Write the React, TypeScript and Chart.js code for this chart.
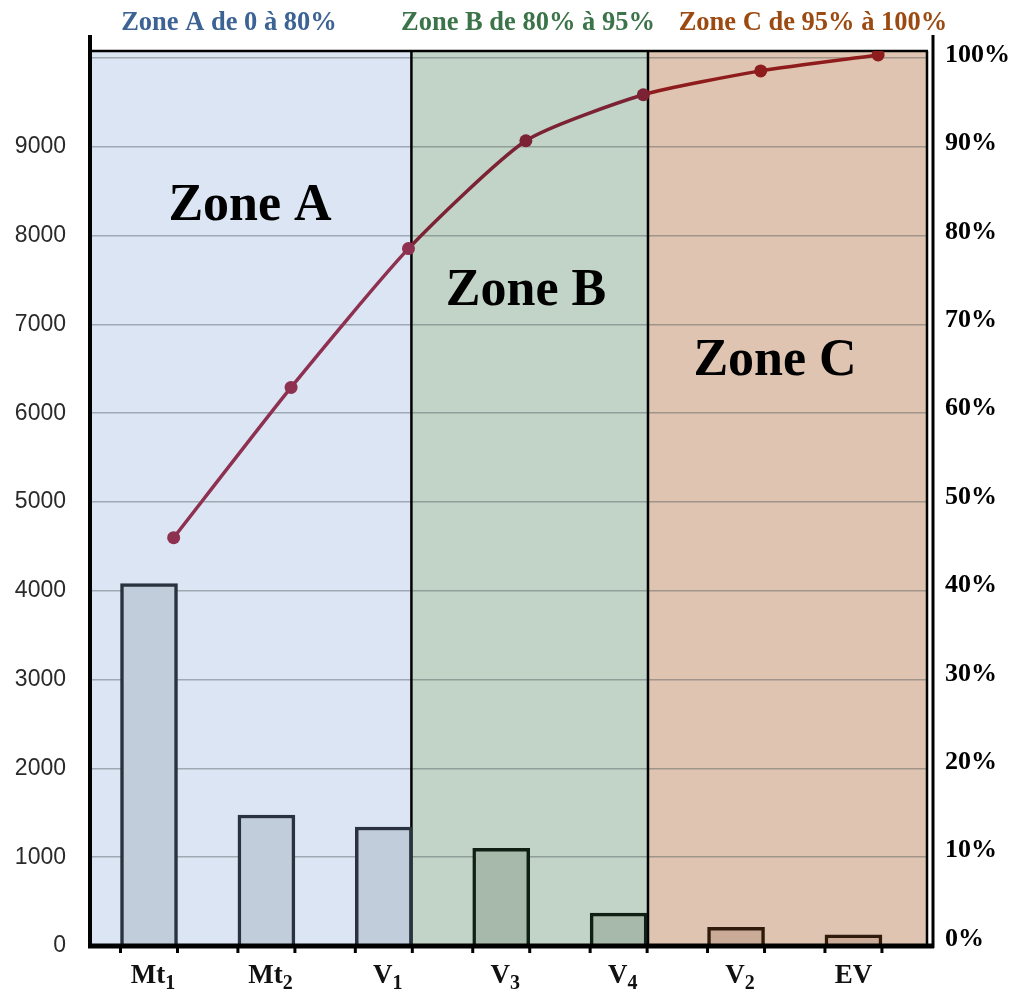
import React, { useEffect, useRef } from "react";
import { Chart, registerables } from "chart.js";

Chart.register(...registerables);

// ---- data ----
const categories = ["Mt", "Mt", "V", "V", "V", "V", "EV"];
const subscripts = ["1", "2", "1", "3", "4", "2", ""];
const values = [4080, 1475, 1340, 1100, 370, 210, 125];
const cumulativePct = [45.4, 62.4, 78.1, 90.3, 95.5, 98.2, 100];
const barZone = [0, 0, 0, 1, 1, 2, 2];
const leftTicks = [0, 1000, 2000, 3000, 4000, 5000, 6000, 7000, 8000, 9000, 10000];
const rightTicks = [0, 10, 20, 30, 40, 50, 60, 70, 80, 90, 100];
const zoneTitles = ["Zone A de 0 à 80%", "Zone B de 80% à 95%", "Zone C de 95% à 100%"];
const zoneNames = ["Zone A", "Zone B", "Zone C"];
// zone limits expressed in category units
const zoneLimits = [-0.5026, 2.235, 4.25, 6.635];

// ---- styles ----
const zoneBg = ["#dbe5f3", "#c2d4c7", "#dfc4b1"];
const barFill = ["#c1cddb", "#a7b9aa", "#c9ab97"];
const barBorder = ["#29323e", "#0f1f14", "#301a0c"];
const lineColor = ["#8e3050", "#7b2234", "#8e1c1c"];
const titleColor = ["#3c6394", "#3b7449", "#9b4b12"];
const SERIF = "'Liberation Serif', 'Times New Roman', serif";

const decor = {
  id: "decor",
  beforeDraw(chart: any) {
    const { ctx, chartArea: ca, scales } = chart;
    const x = scales.x;
    ctx.save();
    for (let z = 0; z < 3; z++) {
      const x0 = x.getPixelForValue(zoneLimits[z]);
      const x1 = x.getPixelForValue(zoneLimits[z + 1]);
      ctx.fillStyle = zoneBg[z];
      ctx.fillRect(x0, ca.top, x1 - x0, ca.bottom - ca.top);
    }
    ctx.restore();
  },
  beforeDatasetsDraw(chart: any) {
    const { ctx, chartArea: ca, scales } = chart;
    const x = scales.x;
    ctx.save();
    ctx.strokeStyle = "#000";
    ctx.lineWidth = 2.5;
    for (let z = 1; z < 4; z++) {
      const px = x.getPixelForValue(zoneLimits[z]) - (z === 3 ? 1 : 0);
      ctx.beginPath();
      ctx.moveTo(px, ca.top);
      ctx.lineTo(px, ca.bottom);
      ctx.stroke();
    }
    ctx.lineWidth = 2.5;
    ctx.beginPath();
    ctx.moveTo(ca.left, ca.top);
    ctx.lineTo(ca.right, ca.top);
    ctx.stroke();

    ctx.fillStyle = "#000";
    ctx.font = `bold 52px ${SERIF}`;
    ctx.textAlign = "center";
    ctx.textBaseline = "middle";
    const pos = [
      [250, 207],
      [526, 292],
      [775, 362],
    ];
    zoneNames.forEach((t, i) => ctx.fillText(t, pos[i][0], pos[i][1]));
    ctx.restore();
  },
  afterDraw(chart: any) {
    const { ctx, chartArea: ca, scales } = chart;
    const x = scales.x;
    ctx.save();
    ctx.strokeStyle = "#000";
    // left axis
    ctx.lineWidth = 4;
    ctx.beginPath();
    ctx.moveTo(ca.left, 35);
    ctx.lineTo(ca.left, ca.bottom + 2);
    ctx.stroke();
    // right axis
    ctx.lineWidth = 3;
    ctx.beginPath();
    ctx.moveTo(ca.right + 5, 35);
    ctx.lineTo(ca.right + 5, ca.bottom + 2);
    ctx.stroke();
    // bottom axis
    ctx.lineWidth = 5;
    ctx.beginPath();
    ctx.moveTo(ca.left - 2, ca.bottom);
    ctx.lineTo(ca.right + 6, ca.bottom);
    ctx.stroke();
    // tick marks at bar edges
    ctx.lineWidth = 3;
    values.forEach((_, i) => {
      const c = x.getPixelForValue(i);
      [c - 28.5, c + 28.5].forEach((px) => {
        ctx.beginPath();
        ctx.moveTo(px, ca.bottom);
        ctx.lineTo(px, ca.bottom + 7);
        ctx.stroke();
      });
    });
    // category labels with subscripts
    ctx.fillStyle = "#111";
    ctx.textBaseline = "alphabetic";
    ctx.textAlign = "left";
    categories.forEach((cat, i) => {
      const mainFont = `bold 27px ${SERIF}`;
      const subFont = `bold 20px ${SERIF}`;
      ctx.font = mainFont;
      const w1 = ctx.measureText(cat).width;
      ctx.font = subFont;
      const w2 = subscripts[i] ? ctx.measureText(subscripts[i]).width : 0;
      const c = x.getPixelForValue(i) + (subscripts[i] ? 4 : 0);
      const start = c - (w1 + w2) / 2;
      ctx.font = mainFont;
      ctx.fillText(cat, start, 983);
      if (subscripts[i]) {
        ctx.font = subFont;
        ctx.fillText(subscripts[i], start + w1, 989);
      }
    });
    // zone titles
    ctx.font = `bold 26.5px ${SERIF}`;
    ctx.textAlign = "center";
    ctx.textBaseline = "middle";
    const tx = [229, 528, 813];
    zoneTitles.forEach((t, i) => {
      ctx.fillStyle = titleColor[i];
      ctx.fillText(t, tx[i], 23);
    });
    ctx.restore();
  },
};

export default function App() {
  const ref = useRef<HTMLCanvasElement | null>(null);
  useEffect(() => {
    if (!ref.current) return;
    const chart = new Chart(ref.current, {
      type: "bar",
      data: {
        datasets: [
          {
            type: "line",
            data: cumulativePct.map((v, i) => ({ x: i + 0.21, y: v })),
            xAxisID: "x",
            yAxisID: "y2",
            borderWidth: 3.5,
            tension: 0.2,
            pointRadius: 6.5,
            pointBorderWidth: 0,
            pointBackgroundColor: cumulativePct.map((_, i) => lineColor[barZone[i]]),
            segment: {
              borderColor: (c: any) => lineColor[barZone[c.p1DataIndex]],
            },
            borderColor: lineColor[0],
            order: 0,
          } as any,
          {
            type: "bar",
            data: values.map((v, i) => ({ x: i, y: v })),
            xAxisID: "x",
            yAxisID: "y",
            barThickness: 57,
            backgroundColor: values.map((_, i) => barFill[barZone[i]]),
            borderColor: values.map((_, i) => barBorder[barZone[i]]),
            borderWidth: 3.5,
            order: 1,
          } as any,
        ],
      },
      options: {
        animation: false,
        responsive: false,
        devicePixelRatio: 1,
        layout: { padding: { top: 51, left: 0, right: 0, bottom: 0 } },
        plugins: { legend: { display: false }, tooltip: { enabled: false } },
        scales: {
          x: {
            type: "linear",
            min: -0.5026,
            max: 6.635,
            offset: false,
            position: "bottom",
            grid: { display: false, offset: false },
            border: { display: false },
            ticks: { display: false },
            afterFit: (s: any) => {
              s.height = 46;
            },
          },
          y: {
            type: "linear",
            position: "left",
            min: 0,
            max: 10079,
            afterBuildTicks: (s: any) => {
              s.ticks = leftTicks.map((v) => ({ value: v }));
            },
            afterFit: (s: any) => {
              s.width = 90;
            },
            grid: { color: "rgba(60,70,80,0.38)", lineWidth: 1.5, drawTicks: false },
            border: { display: false },
            ticks: {
              padding: 24,
              color: "#2a2a2a",
              font: { family: "'Liberation Sans', Arial, sans-serif", size: 23 },
              callback: (v: any) => (v >= 10000 ? "" : String(v)),
            },
          },
          y2: {
            type: "linear",
            position: "right",
            min: -0.79,
            max: 100.45,
            afterBuildTicks: (s: any) => {
              s.ticks = rightTicks.map((v) => ({ value: v }));
            },
            afterFit: (s: any) => {
              s.width = 91;
            },
            grid: { display: false, drawTicks: false },
            border: { display: false },
            ticks: {
              padding: 17,
              color: "#000",
              font: { family: SERIF, size: 26, weight: "bold" },
              callback: (v: any) => `${v}%`,
            },
          },
        },
      },
      plugins: [decor],
    } as any);
    return () => chart.destroy();
  }, []);
  return (
    <div style={{ position: "absolute", left: 0, top: 0, width: 1019, height: 992, background: "#fff" }}>
      <canvas ref={ref} width={1019} height={992} style={{ display: "block" }} />
    </div>
  );
}
